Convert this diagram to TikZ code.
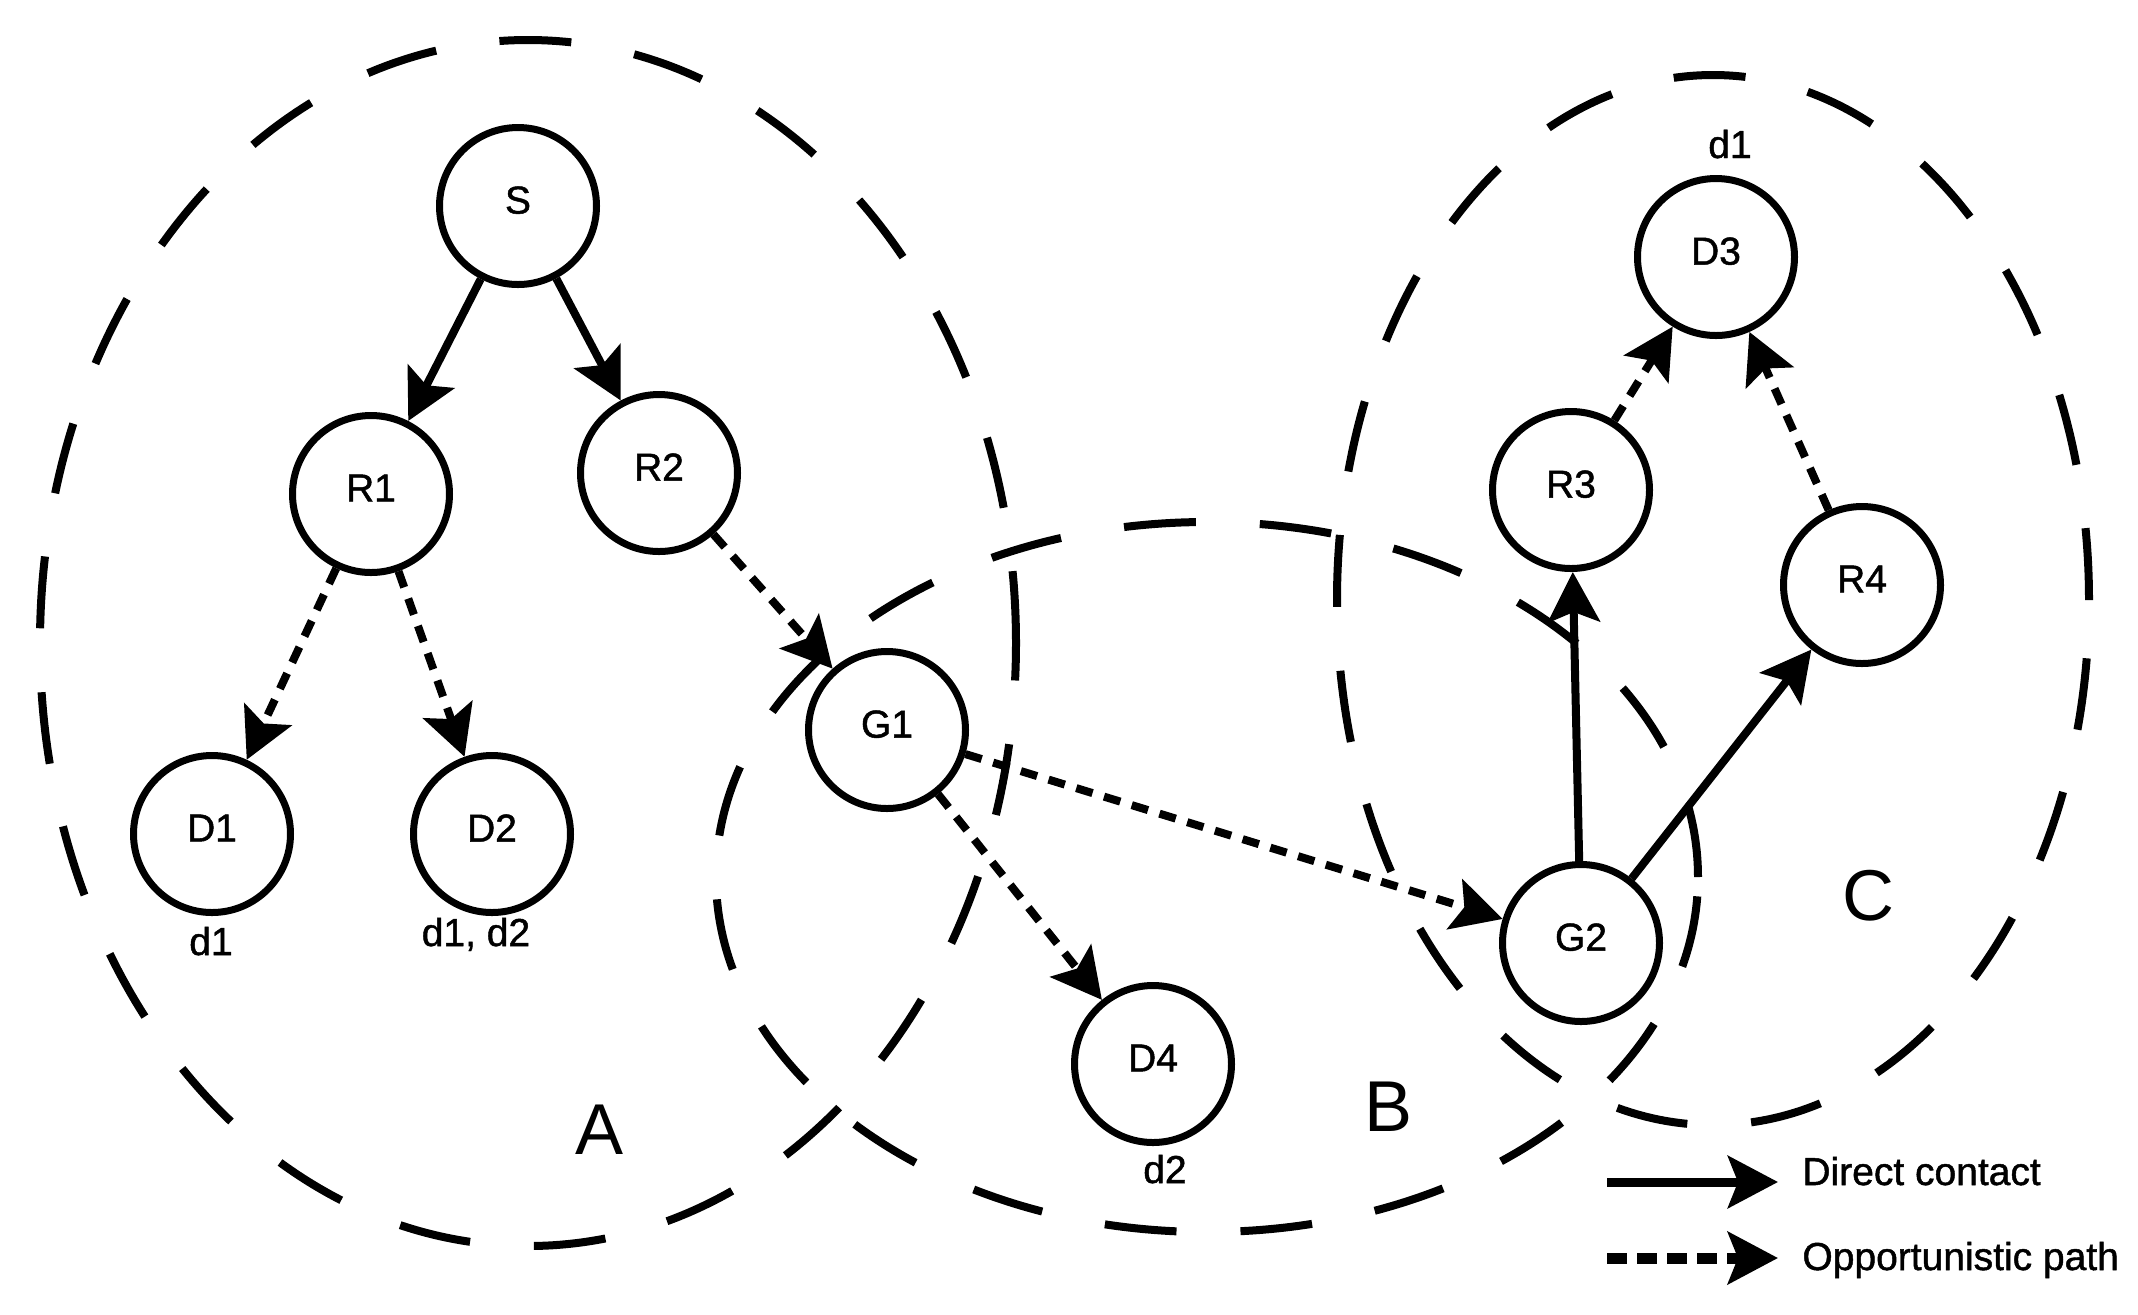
\documentclass[tikz,border=0pt]{standalone}
\usepackage{fontspec}
\setmainfont{Liberation Sans}
\newfontfamily\heavyfont{Liberation Sans}[FakeBold=1.2]
\usetikzlibrary{arrows.meta}
\begin{document}
\begin{tikzpicture}[x=0.5pt,y=-0.5pt,
  nd/.style={circle,draw,line width=3.5pt,fill=white,minimum size=78.5pt,inner sep=0pt,
             font=\heavyfont\fontsize{19.5}{23}\selectfont,text depth=6pt},
  lbl/.style={font=\heavyfont\fontsize{19.5}{23}\selectfont,anchor=base,inner sep=0pt},
  zonelbl/.style={font=\fontsize{36}{40}\selectfont,inner sep=0pt},
  zone/.style={line width=4pt,dash pattern=on 36pt off 32pt},
  con/.style={line width=4pt,-{Stealth[length=25pt,width=26pt,inset=5pt]}},
  opp/.style={con,dash pattern=on 8.5pt off 6pt}]
\useasboundingbox (0,0) rectangle (2138,1314);
% zones
\draw[zone] (528,643) ellipse [x radius=244pt, y radius=301.5pt];
\draw[zone] (1207,877) ellipse [x radius=245.5pt, y radius=177.5pt];
\draw[zone] (1713,600) ellipse [x radius=188pt, y radius=262.5pt];
% nodes
\node[nd] (S)  at (518,206) {S};
\node[nd] (R1) at (371,494) {R1};
\node[nd] (R2) at (659,473) {R2};
\node[nd] (D1) at (212,834) {D1};
\node[nd] (D2) at (492,834) {D2};
\node[nd] (G1) at (887,730) {G1};
\node[nd] (D4) at (1153,1064) {D4};
\node[nd] (G2) at (1581,943) {G2};
\node[nd] (R3) at (1571,490) {R3};
\node[nd] (D3) at (1716,257) {D3};
\node[nd] (R4) at (1862,585) {R4};
% node captions
\node[lbl] (c1) at (211,955) {d1};
\node[lbl] (c2) at (476,946) {d1, d2};
\node[lbl] (c3) at (1165,1183) {d2};
\node[lbl] (c4) at (1730,158) {d1};
% zone labels
\node[zonelbl] (A) at (600,1130) {A};
\node[zonelbl] (B) at (1388,1107) {B};
\node[zonelbl] (C) at (1868,896) {C};
% connectors
\draw[con] (S) -- (R1);
\draw[con] (S) -- (R2);
\draw[opp] (R1) -- (D1);
\draw[opp] (R1) -- (D2);
\draw[opp] (R2) -- (G1);
\draw[opp] (G1) -- (D4);
\draw[opp] (G1) -- (G2);
\draw[con] (G2) -- (R3);
\draw[con] (G2) -- (R4);
\draw[opp] (R3) -- (D3);
\draw[opp] (R4) -- (D3);
% legend
\coordinate (ls1) at (1607,1182);
\coordinate (le1) at (1778,1182);
\coordinate (ls2) at (1607,1258);
\coordinate (le2) at (1778,1258);
\draw[con,line width=4.5pt] (ls1) -- (le1);
\draw[con,line width=5.5pt,dash pattern=on 10pt off 5pt] (ls2) -- (le2);
\node[lbl,anchor=base west] (t1) at (1802,1185) {Direct contact};
\node[lbl,anchor=base west] (t2) at (1802,1270) {Opportunistic path};
\end{tikzpicture}
\end{document}
